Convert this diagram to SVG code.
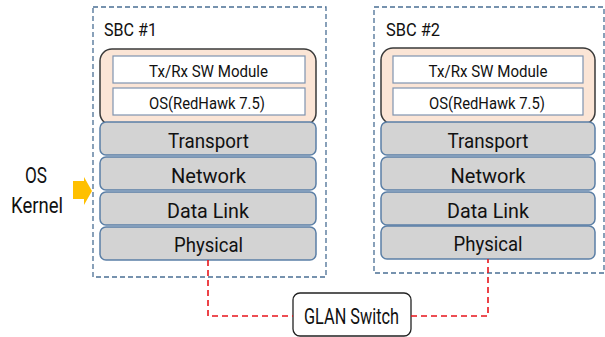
<svg xmlns="http://www.w3.org/2000/svg" width="605" height="337" viewBox="0 0 605 337">
<style>
text{font-family:Roboto,"Noto Sans","Liberation Sans",sans-serif;fill:#111;text-anchor:middle}
.sbc{fill:none;stroke:#4a6f94;stroke-width:1.3;stroke-dasharray:5,3}
.app{fill:#fbe5d6;stroke:#3a3a3a;stroke-width:1.5}
.mod{fill:#fff;stroke:#7f93b0;stroke-width:1.2}
.lay{fill:#d3d3d3;stroke:#5b7fa6;stroke-width:1.5}
.mt{font-size:16.5px}
.lt{font-size:21px}
.link{fill:none;stroke:#e8141b;stroke-width:1.6;stroke-dasharray:6,4}
</style>
<rect width="605" height="337" fill="#fff"/>
<g id="sbc1">
<rect class="sbc" x="93" y="7" width="233" height="270"/>
<text x="104" y="36" style="font-size:18px;text-anchor:start" textLength="53" lengthAdjust="spacingAndGlyphs">SBC #1</text>
<rect class="app" x="100" y="49" width="216" height="76" rx="12"/>
<rect class="mod" x="113" y="56" width="192" height="27"/>
<text class="mt" x="208.5" y="77" textLength="119" lengthAdjust="spacingAndGlyphs">Tx/Rx SW Module</text>
<rect class="mod" x="113" y="88" width="192" height="27"/>
<text class="mt" x="207" y="109" textLength="116" lengthAdjust="spacingAndGlyphs">OS(RedHawk 7.5)</text>
</g>
<g id="sbc1-transport"><rect class="lay" x="100" y="122" width="216" height="33" rx="6"/><text class="lt" x="208.5" y="148" textLength="81" lengthAdjust="spacingAndGlyphs">Transport</text></g>
<g id="sbc1-network"><rect class="lay" x="100" y="157" width="216" height="33" rx="6"/><text class="lt" x="208.5" y="183" textLength="75" lengthAdjust="spacingAndGlyphs">Network</text></g>
<g id="sbc1-datalink"><rect class="lay" x="100" y="192" width="216" height="33" rx="6"/><text class="lt" x="208" y="218" textLength="82" lengthAdjust="spacingAndGlyphs">Data Link</text></g>
<g id="sbc1-physical"><rect class="lay" x="100" y="227" width="216" height="33" rx="6"/><text class="lt" x="208.5" y="252" textLength="69" lengthAdjust="spacingAndGlyphs">Physical</text></g>
<g id="sbc2">
<rect class="sbc" x="374" y="7" width="230" height="266"/>
<text x="386" y="36" style="font-size:18px;text-anchor:start" textLength="54" lengthAdjust="spacingAndGlyphs">SBC #2</text>
<rect class="app" x="381" y="48" width="214" height="76" rx="12"/>
<rect class="mod" x="393" y="56" width="190" height="27"/>
<text class="mt" x="488" y="77" textLength="119" lengthAdjust="spacingAndGlyphs">Tx/Rx SW Module</text>
<rect class="mod" x="393" y="88" width="190" height="27"/>
<text class="mt" x="487" y="109" textLength="116" lengthAdjust="spacingAndGlyphs">OS(RedHawk 7.5)</text>
</g>
<g id="sbc2-transport"><rect class="lay" x="381" y="122" width="214" height="33" rx="6"/><text class="lt" x="488" y="148" textLength="81" lengthAdjust="spacingAndGlyphs">Transport</text></g>
<g id="sbc2-network"><rect class="lay" x="381" y="157" width="214" height="33" rx="6"/><text class="lt" x="488" y="183" textLength="75" lengthAdjust="spacingAndGlyphs">Network</text></g>
<g id="sbc2-datalink"><rect class="lay" x="381" y="192" width="214" height="33" rx="6"/><text class="lt" x="488" y="218" textLength="82" lengthAdjust="spacingAndGlyphs">Data Link</text></g>
<g id="sbc2-physical"><rect class="lay" x="381" y="226" width="214" height="33" rx="6"/><text class="lt" x="488" y="251" textLength="69" lengthAdjust="spacingAndGlyphs">Physical</text></g>
<g id="oskernel">
<text x="36" y="183" style="font-size:22px" textLength="22" lengthAdjust="spacingAndGlyphs">OS</text>
<text x="37" y="213" style="font-size:22px" textLength="52" lengthAdjust="spacingAndGlyphs">Kernel</text>
<polygon points="73,181 84,181 84,177 92,191 84,205 84,199 73,199" fill="#ffc000"/>
</g>
<g id="glan">
<rect x="293" y="293" width="118" height="43" rx="7" fill="#fff" stroke="#222" stroke-width="1.3"/>
<text x="351.5" y="324" style="font-size:22px" textLength="95" lengthAdjust="spacingAndGlyphs">GLAN Switch</text>
</g>
<g id="connectors">
<path class="link" d="M208,260 V316 H293"/>
<path class="link" d="M411,316 H488 V259"/>
</g>
</svg>
